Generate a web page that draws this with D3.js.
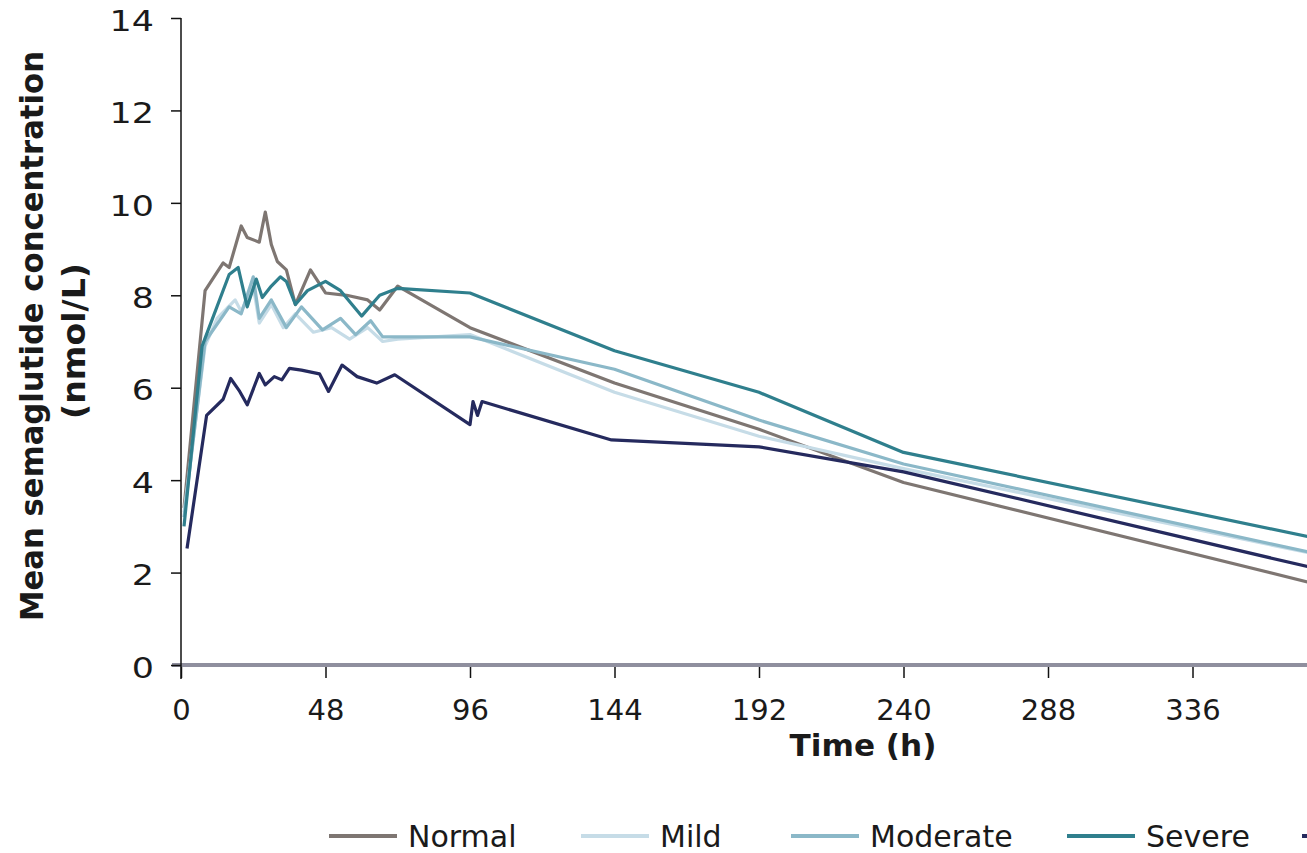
<!DOCTYPE html>
<html>
<head>
<meta charset="utf-8">
<script src="https://cdn.jsdelivr.net/npm/d3@7"></script>
<style>
  html, body { margin: 0; padding: 0; background: #fff; }
  svg { display: block; }
  text { font-family: "DejaVu Sans", Verdana, sans-serif; fill: #1a1a1a; }
</style>
</head>
<body>
<svg id="chart" width="1307" height="853"></svg>
<script>
// Mean semaglutide concentration by renal function group
const groupNames = ["Normal", "Mild", "Moderate", "Severe", "ESRD"];
const groupColors = ["#7e7672", "#c6dce7", "#8bb8c8", "#2f7f8d", "#252a5e"];

const normalTime = [1, 8, 14, 16, 20, 22, 26, 28, 30, 32, 35, 38, 43, 48, 55, 62, 66, 72, 96, 144, 192, 240, 384];
const normalConc = [3.4, 8.1, 8.7, 8.6, 9.5, 9.25, 9.15, 9.8, 9.1, 8.73, 8.55, 7.8, 8.55, 8.05, 8.0, 7.9, 7.68, 8.2, 7.3, 6.1, 5.1, 3.95, 1.64];

const mildTime = [1, 8, 12, 18, 20, 24, 26, 30, 34, 38, 44, 50, 56, 62, 67, 72, 96, 144, 192, 240, 384];
const mildConc = [3.3, 6.9, 7.5, 7.9, 7.65, 8.2, 7.4, 7.8, 7.3, 7.6, 7.2, 7.3, 7.05, 7.3, 7.0, 7.05, 7.15, 5.9, 4.95, 4.25, 2.3];

const moderateTime = [1, 8, 16, 20, 24, 26, 30, 35, 40, 47, 53, 58, 63, 67, 72, 96, 144, 192, 240, 384];
const moderateConc = [3.2, 7.0, 7.75, 7.6, 8.4, 7.5, 7.9, 7.3, 7.75, 7.25, 7.5, 7.15, 7.45, 7.1, 7.1, 7.1, 6.4, 5.3, 4.35, 2.31];

const severeTime = [1, 7, 16, 19, 22, 25, 27, 30, 33, 35, 38, 42, 48, 53, 60, 66, 72, 96, 144, 192, 240, 384];
const severeConc = [3.0, 6.9, 8.45, 8.6, 7.75, 8.35, 7.95, 8.2, 8.4, 8.3, 7.8, 8.1, 8.3, 8.1, 7.55, 8.0, 8.15, 8.05, 6.8, 5.9, 4.6, 2.65];

const esrdTime = [2, 8.5, 14, 16.5, 19.5, 22, 26, 28, 31, 33.5, 36, 40, 46, 49, 53.5, 58.5, 65, 71, 96, 97, 98.5, 100, 143, 192, 240, 384];
const esrdConc = [2.52, 5.4, 5.75, 6.2, 5.92, 5.63, 6.31, 6.06, 6.24, 6.17, 6.42, 6.38, 6.3, 5.92, 6.49, 6.24, 6.1, 6.28, 5.2, 5.7, 5.4, 5.7, 4.87, 4.72, 4.18, 1.98];

const xTicks = [0, 48, 96, 144, 192, 240, 288, 336, 384];
const yTicks = [0, 2, 4, 6, 8, 10, 12, 14];

const seriesTimes = [normalTime, mildTime, moderateTime, severeTime, esrdTime];
const seriesConcs = [normalConc, mildConc, moderateConc, severeConc, esrdConc];

const svg = d3.select("#chart");
const margin = { left: 181, top: 18 };
const plotW = 1156;   // 0..384 h
const plotH = 647;    // 0..14 nmol/L

const x = d3.scaleLinear().domain([0, 384]).range([margin.left, margin.left + plotW]);
const y = d3.scaleLinear().domain([0, 14]).range([margin.top + plotH, margin.top]);

// x axis: thick grey baseline with downward ticks
const xAxis = svg.append("g").attr("transform", `translate(0,${y(0)})`)
  .call(d3.axisBottom(x).tickValues(xTicks).tickSize(13).tickPadding(21).tickFormat(d3.format("d")));
xAxis.select(".domain").remove();
xAxis.selectAll(".tick line").attr("stroke", "#111").attr("stroke-width", 1.5);
xAxis.selectAll(".tick text").attr("font-size", 29)
  .style("font-family", "DejaVu Sans, Verdana, sans-serif").attr("fill", "#1a1a1a");
svg.append("line")
  .attr("x1", x(0) - 9).attr("x2", 1307)
  .attr("y1", y(0)).attr("y2", y(0))
  .attr("stroke", "#8f8f9e").attr("stroke-width", 4);

// y axis
const yAxis = svg.append("g").attr("transform", `translate(${x(0)},0)`)
  .call(d3.axisLeft(y).tickValues(yTicks).tickSize(10).tickPadding(17));
yAxis.select(".domain").attr("stroke", "#111").attr("stroke-width", 1.5)
  .attr("d", `M0,${y(14)}V${y(0) + 14}`);
yAxis.selectAll(".tick line").attr("stroke", "#111").attr("stroke-width", 1.5);
yAxis.selectAll(".tick text").attr("font-size", 29)
  .attr("dy", "0.42em")
  .attr("textLength", d => String(d).length * 22.2)
  .attr("lengthAdjust", "spacingAndGlyphs")
  .style("font-family", "DejaVu Sans, Verdana, sans-serif").attr("fill", "#1a1a1a");

// series lines
const line = d3.line().x(d => x(d[0])).y(d => y(d[1]));
groupNames.forEach((name, i) => {
  const pts = seriesTimes[i].map((t, j) => [t, seriesConcs[i][j]]);
  svg.append("path")
    .datum(pts)
    .attr("fill", "none")
    .attr("stroke", groupColors[i])
    .attr("stroke-width", 3.2)
    .attr("stroke-linejoin", "round")
    .attr("d", line);
});

// axis titles
svg.append("text")
  .attr("transform", "translate(43,336) rotate(-90)")
  .attr("text-anchor", "middle")
  .attr("font-size", 32).attr("font-weight", "bold")
  .attr("textLength", 570).attr("lengthAdjust", "spacingAndGlyphs")
  .text("Mean semaglutide concentration");
svg.append("text")
  .attr("transform", "translate(85,341) rotate(-90)")
  .attr("text-anchor", "middle")
  .attr("font-size", 32).attr("font-weight", "bold")
  .attr("textLength", 156).attr("lengthAdjust", "spacingAndGlyphs")
  .text("(nmol/L)");
svg.append("text")
  .attr("x", 863).attr("y", 756)
  .attr("text-anchor", "middle")
  .attr("font-size", 30).attr("font-weight", "bold")
  .attr("textLength", 147).attr("lengthAdjust", "spacingAndGlyphs")
  .text("Time (h)");

// legend
const legendX = [329, 581, 791, 1067, 1302];
const legend = svg.append("g");
groupNames.forEach((name, i) => {
  const g = legend.append("g").attr("transform", `translate(${legendX[i]},836)`);
  g.append("line").attr("x1", 0).attr("x2", 68).attr("y1", 0).attr("y2", 0)
    .attr("stroke", groupColors[i]).attr("stroke-width", 4);
  g.append("text").attr("x", 79).attr("y", 11).attr("font-size", 30).text(name);
});
</script>
</body>
</html>
